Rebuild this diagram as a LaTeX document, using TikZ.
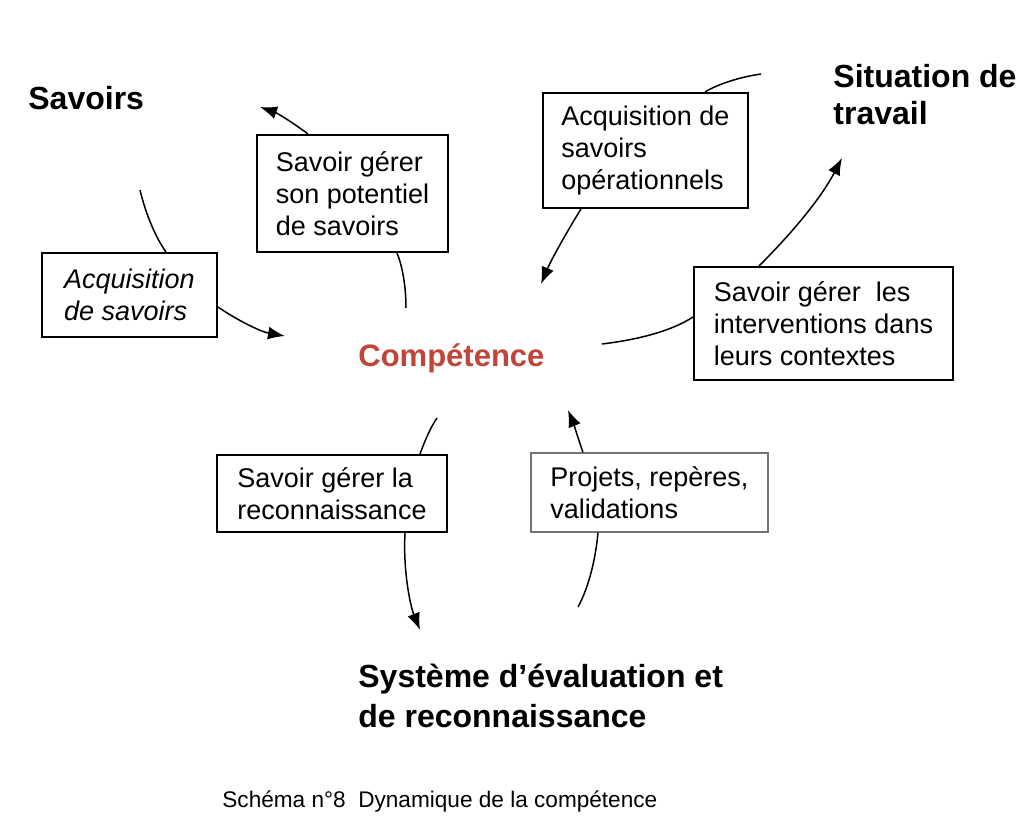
\documentclass[tikz,border=0pt]{standalone}
\usepackage{fontspec}
\setmainfont{Liberation Sans}
\usetikzlibrary{arrows.meta,calc}
\definecolor{brickred}{RGB}{192,68,56}
\begin{document}
\begin{tikzpicture}[x=0.5pt,y=-0.5pt,
    box/.style={draw,line width=1pt,fill=white,align=left,inner sep=2pt,
      font=\fontsize{13.5}{16}\selectfont},
    title/.style={inner sep=0pt,align=left,anchor=base west,
      font=\fontsize{16}{18.5}\selectfont\bfseries},
    curve/.style={line width=0.75pt},
    tip/.style={curve,-{Latex[length=8.5pt,width=6.5pt]}}]
  \useasboundingbox (0,0) rectangle (1024,825);
  \node [title] (savoirs) at (28,109) {Savoirs};
  \node [title] (situation) at (833,124) {Situation de\\travail};
  \node [title,font=\fontsize{16}{20}\selectfont\bfseries] (systeme) at (358,727)
    {Système d’évaluation et\\de reconnaissance};
  \node [title,font=\fontsize{15.5}{18}\selectfont\bfseries,text=brickred] (comp)
    at (358,366) {Compétence};
  \node [inner sep=0pt,anchor=base west,font=\fontsize{11.3}{13}\selectfont]
    (caption) at (222,807) {Schéma n°8\ \ Dynamique de la compétence};
  \node [box,minimum width=95.5pt,minimum height=58.5pt] (potentiel)
    at (352.5,193.5) {Savoir gérer\\son potentiel\\de savoirs};
  \node [box,minimum width=87.5pt,minimum height=42pt,
    font=\fontsize{13.5}{16}\selectfont\itshape] (acqsav)
    at (129.5,295) {Acquisition\\de savoirs};
  \node [box,minimum width=102.5pt,minimum height=57.5pt] (acqop)
    at (645.5,150.5) {Acquisition de\\savoirs\\opérationnels};
  \node [box,minimum width=129.5pt,minimum height=56.5pt] (interv)
    at (823.5,323.5) {Savoir gérer\ \ les\\interventions dans\\leurs contextes};
  \node [box,minimum width=115pt,minimum height=38.5pt] (reconn)
    at (332,493.5) {Savoir gérer la\\reconnaissance};
  \node [box,draw=black!55,line width=0.6pt,minimum width=118.5pt,
    minimum height=39.5pt] (projets)
    at (649.5,492.5) {Projets, repères,\\validations};
  \coordinate (s1) at (140,190);
  \coordinate (t1) at (285,336);
  \coordinate (s2) at (406,308);
  \coordinate (t2) at (260,107);
  \coordinate (s3) at (761,74);
  \coordinate (t3) at (541,284);
  \coordinate (s4) at (602,344);
  \coordinate (t4) at (842,158);
  \coordinate (s5) at (437,418);
  \coordinate (t5) at (420,630);
  \coordinate (s6) at (578,607);
  \coordinate (t6) at (568,410);
  \draw [curve] (s1) .. controls (146,215) and (156,238) .. ($(acqsav.north)+(36.5,0)$);
  \draw [tip] ($(acqsav.east)+(0,12)$) .. controls (240,322) and (262,332) .. (t1);
  \draw [curve] (s2) .. controls (406,285) and (402,265) .. ($(potentiel.south)+(44.5,0)$);
  \draw [tip] ($(potentiel.north)+(-44.5,0)$) .. controls (292,122) and (277,113) .. (t2);
  \draw [curve] (s3) .. controls (740,77) and (718,84) .. ($(acqop.north)+(59.5,0)$);
  \draw [tip] ($(acqop.south)+(-64.5,0)$) .. controls (568,230) and (552,258) .. (t3);
  \draw [curve] (s4) .. controls (635,340) and (670,332) .. ($(interv.west)+(0,-6.5)$);
  \draw [tip] ($(interv.north)+(-64.5,0)$) .. controls (790,235) and (820,200) .. (t4);
  \draw [curve] (s5) .. controls (430,428) and (424,443) .. ($(reconn.north)+(88,0)$);
  \draw [tip] ($(reconn.south)+(73,0)$) .. controls (403,570) and (410,605) .. (t5);
  \draw [curve] (s6) .. controls (590,585) and (596,555) .. ($(projets.south)+(-51.5,0)$);
  \draw [tip] ($(projets.north)+(-66.5,0)$) .. controls (578,438) and (573,422) .. (t6);
\end{tikzpicture}
\end{document}
